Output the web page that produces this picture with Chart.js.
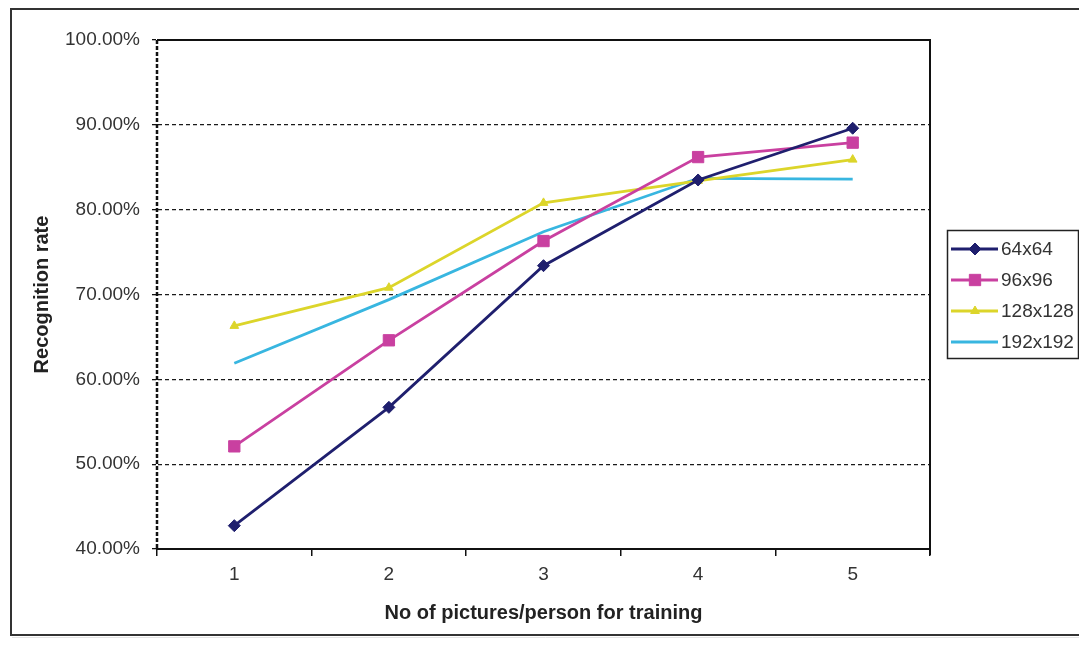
<!DOCTYPE html>
<html>
<head>
<meta charset="utf-8">
<script src="https://cdn.jsdelivr.net/npm/chart.js@4"></script>
<style>
  html, body { margin: 0; padding: 0; background: #ffffff; }
  #wrap { width: 1079px; height: 645px; position: relative; }
</style>
</head>
<body>
<div id="wrap"><canvas id="c" width="1079" height="645"></canvas></div>
<script>
const categories = ['1', '2', '3', '4', '5'];
const s64 = [42.75, 56.7, 73.4, 83.5, 89.6];
const s96 = [52.1, 64.6, 76.3, 86.2, 87.9];
const s128 = [66.3, 70.8, 80.8, 83.4, 85.9];
const s192 = [61.9, 69.4, 77.4, 83.7, 83.6];
const seriesNames = ['64x64', '96x96', '128x128', '192x192'];
const yTicks = [40, 50, 60, 70, 80, 90, 100];
const xTitle = 'No of pictures/person for training';
const yTitle = 'Recognition rate';

const FONT = "'Liberation Sans', Arial, sans-serif";

const frame = {
  id: 'frame',
  beforeDraw(chart) {
    const ctx = chart.ctx;
    ctx.save();
    ctx.fillStyle = '#ffffff';
    ctx.fillRect(0, 0, chart.width, chart.height);
    ctx.strokeStyle = '#333333';
    ctx.lineWidth = 2;
    ctx.strokeRect(11, 9, chart.width + 10, 626);
    ctx.strokeStyle = '#e4e4e4';
    ctx.lineWidth = 1;
    ctx.beginPath();
    ctx.moveTo(12, 637.5); ctx.lineTo(chart.width, 637.5);
    ctx.stroke();
    ctx.restore();
  },
  afterDatasetsDraw(chart) {
    const a = chart.chartArea;
    const ctx = chart.ctx;
    ctx.save();
    ctx.strokeStyle = '#111111';
    ctx.lineWidth = 2;
    ctx.beginPath();
    ctx.moveTo(a.left, a.top);
    ctx.lineTo(a.right, a.top);
    ctx.lineTo(a.right, a.bottom + 6);
    ctx.stroke();
    ctx.setLineDash([4, 2]);
    ctx.lineWidth = 2.5;
    ctx.beginPath();
    ctx.moveTo(a.left, a.top);
    ctx.lineTo(a.left, a.bottom);
    ctx.stroke();
    ctx.restore();
  }
};

const boxLegend = {
  id: 'boxLegend',
  afterDraw(chart) {
    const ctx = chart.ctx;
    const x0 = 947, y0 = 230, w = 131, h = 128;
    ctx.save();
    ctx.strokeStyle = '#222222';
    ctx.lineWidth = 1.5;
    ctx.strokeRect(x0 + 0.5, y0 + 0.5, w, h);
    chart.data.datasets.forEach((ds, i) => {
      const cy = 249 + i * 31;
      ctx.strokeStyle = ds.borderColor;
      ctx.lineWidth = 3;
      ctx.beginPath();
      ctx.moveTo(951, cy); ctx.lineTo(998, cy);
      ctx.stroke();
      if (ds.pointRadius > 0) {
        ctx.fillStyle = ds.pointBackgroundColor;
        ctx.strokeStyle = ds.pointBorderColor;
        ctx.lineWidth = 1;
        Chart.helpers.drawPoint(ctx, {
          pointStyle: ds.pointStyle, radius: ds.pointRadius, rotation: 0, borderWidth: 1
        }, 975, cy);
      }
      ctx.fillStyle = '#333333';
      ctx.font = '19px ' + FONT;
      ctx.textBaseline = 'middle';
      ctx.textAlign = 'left';
      ctx.fillText(ds.label, 1001, cy + 1);
    });
    ctx.restore();
  }
};

function mk(label, data, color, style, radius) {
  return {
    label, data,
    borderColor: color,
    backgroundColor: color,
    borderWidth: 2.8,
    pointStyle: style,
    pointRadius: radius,
    pointHoverRadius: radius,
    pointBackgroundColor: color,
    pointBorderColor: color,
    pointBorderWidth: 1,
    tension: 0,
    fill: false
  };
}

new Chart(document.getElementById('c'), {
  type: 'line',
  data: {
    labels: categories,
    datasets: [
      mk(seriesNames[0], s64, '#1f1f6e', 'rectRot', 6),
      mk(seriesNames[1], s96, '#c940a0', 'rect', 8),
      mk(seriesNames[2], s128, '#dcd52a', 'triangle', 5),
      mk(seriesNames[3], s192, '#38b6e0', 'circle', 0)
    ]
  },
  options: {
    responsive: false,
    animation: false,
    devicePixelRatio: 1,
    layout: { padding: { top: 40, right: 149, bottom: 0, left: 0 } },
    plugins: {
      legend: { display: false },
      tooltip: { enabled: false },
      title: { display: false }
    },
    scales: {
      x: {
        type: 'category',
        offset: true,
        grid: {
          offset: true,
          drawOnChartArea: false,
          drawTicks: true,
          tickLength: 7,
          color: '#111111',
          lineWidth: 1.5
        },
        border: { display: true, color: '#111111', width: 2 },
        ticks: {
          color: '#333333',
          font: { family: FONT, size: 19 },
          padding: 7
        },
        title: {
          display: true,
          text: xTitle,
          color: '#222222',
          font: { family: FONT, size: 20, weight: 'bold' },
          padding: { top: 0, bottom: 20 }
        },
        afterFit(scale) { scale.height = 96; }
      },
      y: {
        min: 40,
        max: 100,
        afterBuildTicks(scale) { scale.ticks = yTicks.map(v => ({ value: v })); },
        grid: {
          color: '#1a1a1a',
          lineWidth: 1.3,
          drawTicks: true,
          tickLength: 5,
          tickBorderDash: [],
          tickColor: '#111111'
        },
        border: { display: true, color: 'rgba(0,0,0,0)', width: 2, dash: [4, 3] },
        ticks: {
          color: '#333333',
          font: { family: FONT, size: 19 },
          padding: 12,
          callback: (v) => v.toFixed(2) + '%'
        },
        title: {
          display: true,
          text: yTitle,
          color: '#222222',
          font: { family: FONT, size: 20, weight: 'bold' },
          padding: { top: 30, bottom: 0 }
        },
        afterFit(scale) { scale.width = 157; }
      }
    }
  },
  plugins: [frame, boxLegend]
});
</script>
</body>
</html>
